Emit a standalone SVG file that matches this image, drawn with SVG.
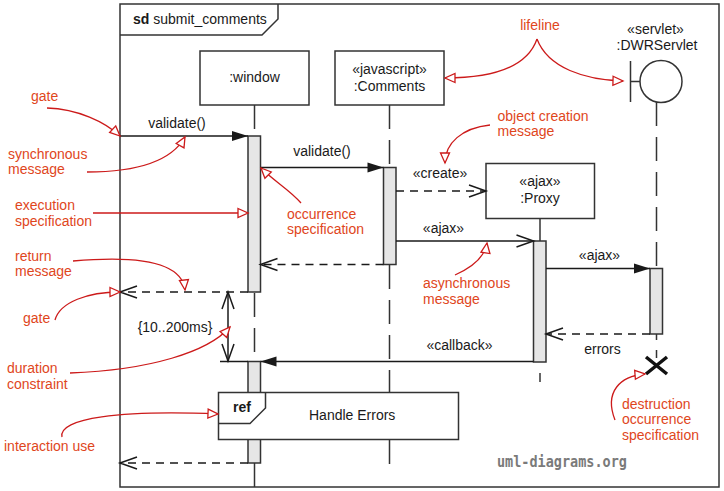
<svg xmlns="http://www.w3.org/2000/svg" width="724" height="491" viewBox="0 0 724 491">
<defs>
<style>
text{font-family:"Liberation Sans",Arial,sans-serif;font-size:14px;fill:#1a1a1a}
.c{text-anchor:middle}
.b{font-weight:bold}
.n{fill:#e0461c}
.frame{fill:none;stroke:#333;stroke-width:1.5}
.box{fill:#fff;stroke:#333;stroke-width:1.5}
.bar{fill:#e6e6e6;stroke:#333;stroke-width:1.5}
.ll{stroke:#333;stroke-width:1.5;stroke-dasharray:24,11;fill:none}
.msg{stroke:#1a1a1a;stroke-width:1.5;fill:none}
.sync{marker-end:url(#sa)}
.open{marker-end:url(#oa)}
.ret{stroke-dasharray:8,6}
.note{stroke:#cc1a1a;stroke-width:1.3;fill:none;marker-end:url(#ra)}
.wm{font-family:"DejaVu Sans Mono",monospace;font-weight:bold;font-size:15px;fill:#7a7a7a}
</style>
<marker id="sa" markerUnits="userSpaceOnUse" markerWidth="17" markerHeight="11" refX="16" refY="5" orient="auto" overflow="visible">
<path d="M0,0 L16,5 L0,10 Z" fill="#1a1a1a" stroke="none"/>
</marker>
<marker id="oa" markerUnits="userSpaceOnUse" markerWidth="18" markerHeight="13" refX="17" refY="6" orient="auto-start-reverse" overflow="visible">
<path d="M0,0 L17,6 L0,12" fill="none" stroke="#1a1a1a" stroke-width="1.5" stroke-dasharray="none"/>
</marker>
<marker id="ra" markerUnits="userSpaceOnUse" markerWidth="12" markerHeight="10" refX="10" refY="4.5" orient="auto" overflow="visible">
<path d="M0,0 L10,4.5 L0,9 Z" fill="#fff" stroke="#cc1a1a" stroke-width="1.3"/>
</marker>
</defs>

<g id="frame">
<rect class="frame" x="120" y="4" width="599" height="483"/>
<path class="frame" d="M120,35 L262,35 L278,19 L278,4"/>
<text x="133" y="24"><tspan class="b">sd</tspan> submit_comments</text>
</g>

<g id="lifelines">
<path class="ll" d="M254.5,105 V136"/>
<path class="ll" d="M254.5,293 V361"/>
<path class="ll" d="M254.5,463 V487"/>
<path class="ll" d="M389.5,105 V167"/>
<path class="ll" d="M389.5,265 V467"/>
<path class="ll" d="M540,218 V241"/>
<path class="ll" d="M540,373 V382"/>
<path class="ll" d="M656.5,102 V268"/>
<path class="ll" d="M656.5,334 V340 M656.5,350 V358"/>
</g>

<g id="window">
<rect class="box" x="200" y="51" width="109" height="54"/>
<text class="c" x="254.5" y="82">:window</text>
<rect class="bar" x="248" y="136" width="12.5" height="156"/>
<rect class="bar" x="248" y="361.5" width="12.5" height="101.5"/>
</g>

<g id="comments">
<rect class="box" x="335" y="51" width="109" height="54"/>
<text class="c" x="389.5" y="73.5">«javascript»</text>
<text class="c" x="389.5" y="90.5">:Comments</text>
<rect class="bar" x="383.5" y="167.5" width="12.5" height="97"/>
</g>

<g id="proxy">
<rect class="box" x="486" y="163.5" width="108.5" height="55"/>
<text class="c" x="540" y="186">«ajax»</text>
<text class="c" x="540" y="203">:Proxy</text>
<rect class="bar" x="533.5" y="241" width="12.5" height="121"/>
</g>

<g id="servlet">
<text class="c" x="655.5" y="33.5">«servlet»</text>
<text class="c" x="657" y="50">:DWRServlet</text>
<path class="frame" d="M630.5,61 V102 M630.5,81.5 H640"/>
<circle class="box" cx="661" cy="81.5" r="21"/>
<rect class="bar" x="650" y="268.5" width="12.5" height="65.5"/>
<path d="M646,357 L667,374 M667,357 L646,374" stroke="#111" stroke-width="3.5" fill="none"/>
</g>

<g id="connectors">
<path class="msg sync" d="M120,136 H248"/>
<text class="c" x="177" y="128">validate()</text>
<path class="msg sync" d="M260.5,167.5 H383.5"/>
<text class="c" x="322" y="156">validate()</text>
<path class="msg open ret" d="M383.5,264.5 H260.5"/>
<path class="msg open ret" d="M396,191 H486"/>
<text class="c" x="440" y="178">«create»</text>
<path class="msg open" d="M396,241 H533.5"/>
<text class="c" x="443.5" y="233">«ajax»</text>
<path class="msg sync" d="M546,268.5 H650"/>
<text class="c" x="599.5" y="260">«ajax»</text>
<path class="msg open ret" d="M650,334 H546"/>
<text class="c" x="602.5" y="353.5">errors</text>
<path class="msg sync" d="M533.5,361.5 H260.5"/>
<text class="c" x="459.5" y="350">«callback»</text>
<path class="msg open ret" d="M248,292 H120"/>
<path class="msg open ret" d="M248,463 H120"/>
<path class="msg" d="M220,361.5 H248"/>
<path class="msg" d="M228,292 V361" marker-start="url(#oa)" marker-end="url(#oa)"/>
<text class="c" x="175" y="332">{10..200ms}</text>
</g>

<g id="handle_errors">
<rect class="box" x="218.5" y="392.5" width="240" height="47"/>
<path class="frame" d="M218.5,423.5 H250 L265.5,408 V392.5"/>
<text class="b" x="233" y="412">ref</text>
<text x="309" y="419.5">Handle Errors</text>
</g>

<g id="annotations">
<text class="n c" x="540" y="30">lifeline</text>
<path class="note" d="M537,39 C527,68 490,78 445,78"/>
<path class="note" d="M537,39 C548,68 585,80 623,81"/>
<text class="n" x="497.5" y="120.5">object creation</text>
<text class="n" x="497.5" y="136">message</text>
<path class="note" d="M490,125 C462,128 445,143 445,163"/>
<text class="n" x="31" y="101">gate</text>
<path class="note" d="M47,108 C78,109 105,122 120,136"/>
<text class="n" x="8" y="158.5">synchronous</text>
<text class="n" x="8" y="174">message</text>
<path class="note" d="M87,172 C140,172 172,160 185,137"/>
<text class="n" x="15" y="210">execution</text>
<text class="n" x="15" y="225.5">specification</text>
<path class="note" d="M93,213 L248,213"/>
<text class="n" x="287" y="218.5">occurrence</text>
<text class="n" x="287" y="233.5">specification</text>
<path class="note" d="M301,203 C290,190 275,182 261,168"/>
<text class="n" x="15" y="260.5">return</text>
<text class="n" x="15" y="276">message</text>
<path class="note" d="M73,261 C140,255 182,262 185,290"/>
<text class="n" x="23" y="322.5">gate</text>
<path class="note" d="M55,320 C60,302 88,292 120,292"/>
<text class="n" x="7" y="373">duration</text>
<text class="n" x="7" y="388.5">constraint</text>
<path class="note" d="M70,373 C150,370 208,352 230,327"/>
<text class="n" x="4" y="451">interaction use</text>
<path class="note" d="M62,437 C58,418 120,410 218,414"/>
<text class="n" x="423" y="287.5">asynchronous</text>
<text class="n" x="423" y="303.5">message</text>
<path class="note" d="M455,275 C475,266 485,256 487,243"/>
<text class="n" x="622" y="408.5">destruction</text>
<text class="n" x="622" y="424">occurrence</text>
<text class="n" x="622" y="439.5">specification</text>
<path class="note" d="M615,420 C604,392 620,376 645,374"/>
</g>

<text class="wm" x="497" y="467" textLength="130" lengthAdjust="spacingAndGlyphs">uml-diagrams.org</text>
</svg>
